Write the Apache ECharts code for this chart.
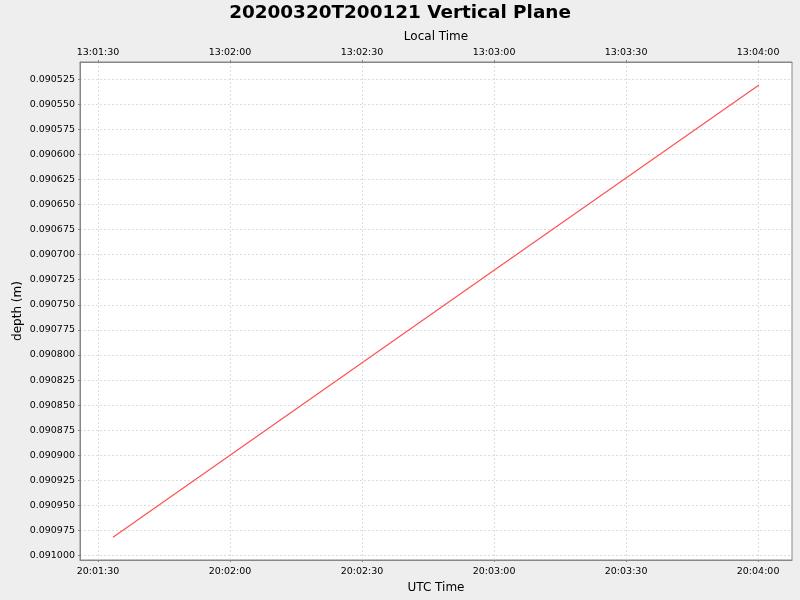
<!DOCTYPE html>
<html>
<head>
<meta charset="utf-8">
<script src="https://cdn.jsdelivr.net/npm/echarts@6/dist/echarts.min.js"></script>
<style>
html,body{margin:0;padding:0;background:#eeeeee;}
#chart{width:800px;height:600px;}
</style>
</head>
<body>
<div id="chart"></div>
<script>
// seconds since 20:00:00 UTC
const timeSeconds = [93.4, 180.0, 240.2];
const depthValues = [0.0909817, 0.0907155, 0.090531];
// tick positions (seconds since 20:00:00 UTC)
const xTickSeconds = [90, 120, 150, 180, 210, 240];
const utcTickLabels = ['20:01:30', '20:02:00', '20:02:30', '20:03:00', '20:03:30', '20:04:00'];
const localTickLabels = ['13:01:30', '13:02:00', '13:02:30', '13:03:00', '13:03:30', '13:04:00'];
const yTickValues = [0.090525, 0.090550, 0.090575, 0.090600, 0.090625, 0.090650, 0.090675, 0.090700,
  0.090725, 0.090750, 0.090775, 0.090800, 0.090825, 0.090850, 0.090875, 0.090900, 0.090925,
  0.090950, 0.090975, 0.091000];
const yTickLabels = yTickValues.map(v => v.toFixed(6));
const xMin = 85.9, xMax = 247.7;
const yMin = 0.090508, yMax = 0.0910043;

function labelFor(ticks, labels) {
  return v => {
    let best = 0;
    for (let i = 1; i < ticks.length; i++) if (Math.abs(ticks[i] - v) < Math.abs(ticks[best] - v)) best = i;
    return labels[best];
  };
}

const chart = echarts.init(document.getElementById('chart'));
const font = 'DejaVu Sans';
const data = timeSeconds.map((t, i) => [t, depthValues[i]]);
const gridLine = {color: '#dcdcdc', type: [2, 2], width: 1};
chart.setOption({
  backgroundColor: '#eeeeee',
  animation: false,
  title: {
    text: '20200320T200121 Vertical Plane',
    left: 'center', top: -1,
    textStyle: {fontFamily: font, fontSize: 18.4, fontWeight: 'bold', color: '#000'}
  },
  grid: {left: 80, right: 8, top: 62, bottom: 40, show: true, backgroundColor: '#ffffff', borderColor: '#888888', borderWidth: 1},
  xAxis: [
    {
      type: 'value', position: 'bottom', min: xMin, max: xMax,
      name: 'UTC Time', nameLocation: 'middle', nameGap: 20,
      nameTextStyle: {fontFamily: font, fontSize: 12, color: '#000'},
      axisLine: {show: true, lineStyle: {color: '#888888'}},
      axisTick: {show: true, length: 2, lineStyle: {color: '#888888'}, customValues: xTickSeconds},
      axisLabel: {fontFamily: font, fontSize: 9.5, color: '#000', margin: 7, customValues: xTickSeconds,
        formatter: labelFor(xTickSeconds, utcTickLabels)},
      splitLine: {show: true, lineStyle: gridLine}
    },
    {
      type: 'value', position: 'top', min: xMin, max: xMax,
      name: 'Local Time', nameLocation: 'middle', nameGap: 18,
      nameTextStyle: {fontFamily: font, fontSize: 12, color: '#000'},
      axisLine: {show: true, lineStyle: {color: '#888888'}},
      axisTick: {show: true, length: 2, lineStyle: {color: '#888888'}, customValues: xTickSeconds},
      axisLabel: {fontFamily: font, fontSize: 9.5, color: '#000', margin: 4, customValues: xTickSeconds,
        formatter: labelFor(xTickSeconds, localTickLabels)},
      splitLine: {show: false}
    }
  ],
  yAxis: {
    type: 'value', inverse: true, min: yMin, max: yMax,
    name: 'depth (m)', nameLocation: 'middle', nameGap: 56, nameMoveOverlap: false,
    nameTextStyle: {fontFamily: font, fontSize: 12, color: '#000'},
    axisLine: {show: true, lineStyle: {color: '#888888'}},
    axisTick: {show: true, length: 2, lineStyle: {color: '#888888'}, customValues: yTickValues},
    axisLabel: {fontFamily: font, fontSize: 9.5, color: '#000', margin: 5, customValues: yTickValues,
      formatter: labelFor(yTickValues, yTickLabels)},
    splitLine: {show: true, lineStyle: gridLine}
  },
  series: [{
    type: 'line', data: data, xAxisIndex: 0, showSymbol: false, symbol: 'none',
    lineStyle: {color: '#ff5555', width: 1.3}
  }]
});
</script>
</body>
</html>
